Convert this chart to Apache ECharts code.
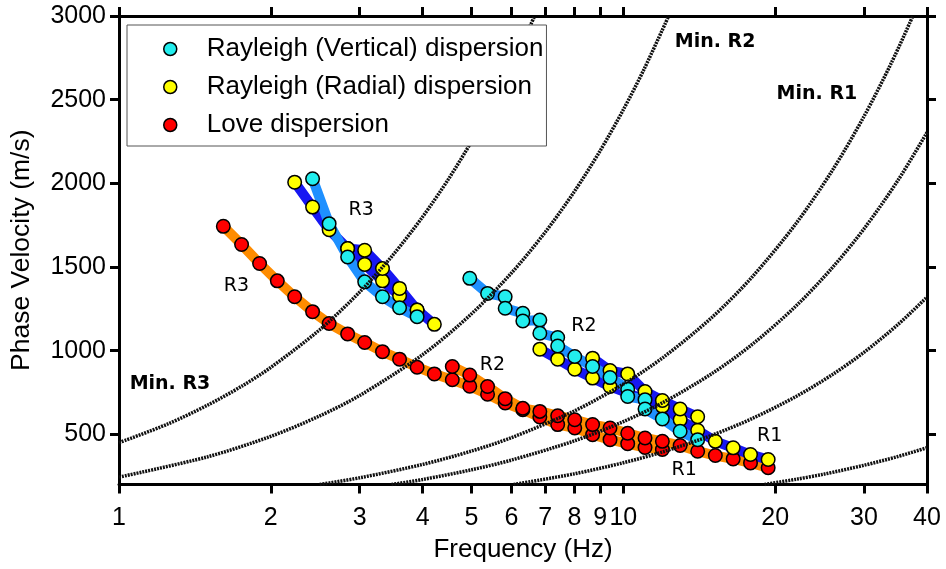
<!DOCTYPE html>
<html><head><meta charset="utf-8">
<script src="https://cdn.jsdelivr.net/npm/echarts@6/dist/echarts.min.js"></script>
<style>html,body{margin:0;padding:0;background:#fff}#c{width:946px;height:569px}</style>
</head><body><div id="c"></div>
<script>
// ---- tick labels ----
const xTickValues = [1, 2, 3, 4, 5, 6, 7, 8, 9, 10, 20, 30, 40];
const yTickValues = [500, 1000, 1500, 2000, 2500, 3000];

// ---- series names ----
const nameVert = 'Rayleigh (Vertical) dispersion';
const nameRad = 'Rayleigh (Radial) dispersion';
const nameLove = 'Love dispersion';

// ---- Rayleigh vertical ----
const vertR3Freq = [2.42, 2.61, 2.84, 3.07, 3.33, 3.60, 3.90];
const vertR3Vel = [2027, 1759, 1560, 1411, 1322, 1256, 1203];
const vertR2Freq = [4.96, 5.38, 5.83, 5.83, 6.32, 6.32, 6.83, 6.83, 7.41, 7.41, 8.01, 8.69, 9.41, 10.2, 10.2, 11.04, 11.04, 11.95, 12.96, 14.04];
const vertR2Vel = [1432, 1342, 1322, 1253, 1223, 1177, 1183, 1104, 1078, 1028, 965, 905, 839, 770, 726, 707, 651, 592, 518, 468];

// ---- Rayleigh radial ----
const radR3MainFreq = [2.23, 2.42, 2.61, 2.84, 3.07, 3.33, 3.60, 3.90, 4.22];
const radR3MainVel = [2007, 1858, 1723, 1610, 1515, 1417, 1328, 1243, 1157];
const radR3UpperFreq = [2.84, 3.07, 3.33, 3.60, 3.90];
const radR3UpperVel = [1610, 1600, 1491, 1372, 1243];
const radR2AFreq = [6.83, 7.41, 8.01, 8.69, 9.41, 11.95, 12.96, 14.04, 15.22, 16.51, 17.87, 19.37];
const radR2AVel = [1009, 949, 889, 836, 786, 667, 587, 524, 458, 419, 379, 349];
const radR2BFreq = [8.69, 9.41, 10.2, 11.04, 11.95, 12.96, 14.04];
const radR2BVel = [955, 881, 861, 756, 702, 651, 605];

// ---- Love ----
const loveR3Freq = [1.61, 1.75, 1.90, 2.06, 2.23, 2.42, 2.61, 2.84, 3.07, 3.33, 3.60, 3.90, 4.22, 4.58, 4.96, 5.38, 5.83, 6.32, 6.83, 7.41, 8.01, 8.69, 9.41, 10.2, 11.04, 11.95];
const loveR3Vel = [1743, 1634, 1521, 1417, 1322, 1233, 1162, 1100, 1049, 994, 949, 901, 861, 826, 787, 739, 687, 647, 603, 558, 538, 498, 468, 444, 421, 409];
const loveR2Freq = [4.58, 4.96, 5.38, 5.83, 6.32, 6.83, 7.41, 8.01, 8.69, 9.41, 10.2, 11.04, 11.95, 12.96, 14.04, 15.22, 16.51, 17.87, 19.37];
const loveR2Vel = [905, 854, 786, 713, 655, 637, 611, 587, 558, 538, 506, 478, 458, 433, 399, 373, 353, 329, 300];

// ---- minimum-wavelength curves ----
const min1Freq = [1, 1.25, 1.5, 1.75, 2, 2.5, 3, 3.5, 4, 4.5, 5, 5.5, 6, 6.67];
const min1Vel = [450, 562, 675, 787, 900, 1125, 1350, 1575, 1800, 2025, 2250, 2475, 2700, 3000];
const min2Freq = [1, 1.5, 2, 2.5, 3, 4, 5, 6, 7, 8, 9, 10, 11, 12.3];
const min2Vel = [244, 366, 488, 610, 732, 976, 1220, 1464, 1708, 1952, 2196, 2440, 2684, 3000];
const min3Freq = [2.5, 3, 4, 5, 6, 8, 10, 12, 15, 18, 22, 26, 30, 34, 37.5];
const min3Vel = [200, 240, 320, 400, 480, 640, 800, 960, 1200, 1440, 1760, 2080, 2400, 2720, 3000];
const min4Freq = [3.47, 4, 5, 6, 8, 10, 12, 15, 18, 22, 26, 30, 35, 40];
const min4Vel = [200, 230, 288, 346, 461, 576, 691, 864, 1037, 1267, 1498, 1728, 2016, 2304];
const min5Freq = [6.06, 8, 10, 12, 15, 18, 22, 26, 30, 35, 40];
const min5Vel = [200, 264, 330, 396, 495, 594, 726, 858, 990, 1155, 1320];
const min6Freq = [19.05, 22, 25, 30, 35, 40];
const min6Vel = [200, 231, 262, 315, 367, 420];

// ---- text annotations ----
const modeLabelText = ['R3', 'R3', 'R2', 'R2', 'R1', 'R1'];
const modeLabelFreq = [3.02, 1.71, 8.35, 5.50, 19.5, 13.2];
const modeLabelVel = [1838, 1386, 1144, 915, 492, 285];
const minLabelText = ['Min. R3', 'Min. R2', 'Min. R1'];
const minLabelFreq = [1.262, 15.2, 24.2];
const minLabelVel = [798, 2845, 2535];

function pts(fs, vs) { return fs.map((f, i) => [f, vs[i]]); }
function named(fs, vs, names) { return fs.map((f, i) => ({ value: [f, vs[i]], name: names[i] })); }

function band(id, fs, vs, color) {
  return {
    id: id, name: id, type: 'line', data: pts(fs, vs), showSymbol: false, symbol: 'none',
    lineStyle: { color: color, width: 10, cap: 'round', join: 'round' },
    z: 2, silent: true, animation: false
  };
}
function markers(name, list, color) {
  return {
    name: name, type: 'scatter', data: list, symbol: 'circle', symbolSize: 13.5,
    itemStyle: { color: color, borderColor: '#000', borderWidth: 1.5, opacity: 1 },
    z: 3, silent: true, animation: false
  };
}
function minCurve(id, fs, vs) {
  return {
    id: id, name: id, type: 'line', data: pts(fs, vs), showSymbol: false, symbol: 'none',
    smooth: 0.3, clip: true,
    lineStyle: { color: '#111', width: 3.5, type: [2, 1] },
    z: 4, silent: true, animation: false
  };
}

const lightBlue = '#1E90FF', darkBlue = '#1717F2', orange = '#FF8C00';
const cyan = '#22EEEE', yellow = '#FFFF00', red = '#FF0000';

const annotationLabel = { show: true, position: 'inside', formatter: '{b}', color: '#000', textBorderWidth: 0, opacity: 1, fontFamily: 'DejaVu Sans' };

const series = [
  band('loveR3', loveR3Freq, loveR3Vel, orange),
  band('loveR2', loveR2Freq, loveR2Vel, orange),
  band('radR3Main', radR3MainFreq, radR3MainVel, darkBlue),
  band('radR3Upper', radR3UpperFreq, radR3UpperVel, darkBlue),
  band('radR2A', radR2AFreq, radR2AVel, darkBlue),
  band('radR2B', radR2BFreq, radR2BVel, darkBlue),
  band('vertR3', vertR3Freq, vertR3Vel, lightBlue),
  band('vertR2', vertR2Freq, vertR2Vel, lightBlue),
  markers(nameLove, pts(loveR3Freq, loveR3Vel).concat(pts(loveR2Freq, loveR2Vel)), red),
  markers(nameRad, pts(radR3MainFreq, radR3MainVel).concat(pts(radR3UpperFreq, radR3UpperVel), pts(radR2AFreq, radR2AVel), pts(radR2BFreq, radR2BVel)), yellow),
  markers(nameVert, pts(vertR3Freq, vertR3Vel).concat(pts(vertR2Freq, vertR2Vel)), cyan),
  minCurve('min1', min1Freq, min1Vel),
  minCurve('min2', min2Freq, min2Vel),
  minCurve('min3', min3Freq, min3Vel),
  minCurve('min4', min4Freq, min4Vel),
  minCurve('min5', min5Freq, min5Vel),
  minCurve('min6', min6Freq, min6Vel),
  {
    id: 'modeLabels', type: 'scatter', data: named(modeLabelFreq, modeLabelVel, modeLabelText),
    symbolSize: 1, itemStyle: { color: 'rgba(255,255,255,0)' }, silent: true, z: 6, animation: false,
    label: Object.assign({}, annotationLabel, { fontSize: 19 })
  },
  {
    id: 'minLabels', type: 'scatter', data: named(minLabelFreq, minLabelVel, minLabelText),
    symbolSize: 1, itemStyle: { color: 'rgba(255,255,255,0)' }, silent: true, z: 6, animation: false,
    label: Object.assign({}, annotationLabel, { fontSize: 19, fontWeight: 'bold' })
  }
];

const axisLineStyle = { color: '#000', width: 3 };
const tickStyle = { color: '#000', width: 3 };
const baseFont = 'Liberation Sans';
const plain = v => String(Math.round(v));

const option = {
  animation: false,
  backgroundColor: '#fff',
  grid: { left: 119, right: 19, top: 16, bottom: 84.5, containLabel: false, outerBoundsMode: 'none' },
  legend: {
    data: [nameVert, nameRad, nameLove], orient: 'vertical', left: 127, top: 25,
    icon: 'circle', itemWidth: 63, itemHeight: 13, itemGap: 12, padding: [11, 3, 8, 36],
    borderColor: '#555', borderWidth: 1, backgroundColor: '#fff', selectedMode: false, z: 10,
    itemStyle: { borderColor: '#000', borderWidth: 1.5 },
    textStyle: { fontSize: 26, fontFamily: baseFont, color: '#000', lineHeight: 26 }
  },
  xAxis: [
    {
      type: 'log', logBase: 10, min: 1, max: 40, position: 'bottom',
      axisLine: { show: true, lineStyle: axisLineStyle },
      axisTick: { show: true, inside: false, length: 9, lineStyle: tickStyle, customValues: xTickValues },
      minorTick: { show: false }, splitLine: { show: false },
      axisLabel: { show: true, customValues: xTickValues, fontSize: 25, fontFamily: baseFont, color: '#000', margin: 21, formatter: plain },
      name: 'Frequency (Hz)', nameLocation: 'middle', nameGap: 52,
      nameTextStyle: { fontSize: 26, fontFamily: baseFont, color: '#000' }
    },
    {
      type: 'log', logBase: 10, min: 1, max: 40, position: 'top',
      axisLine: { show: true, lineStyle: axisLineStyle },
      axisTick: { show: true, inside: false, length: 9, lineStyle: tickStyle, customValues: xTickValues },
      minorTick: { show: false }, splitLine: { show: false },
      axisLabel: { show: false, customValues: xTickValues }
    }
  ],
  yAxis: [
    {
      type: 'value', min: 200, max: 3000, position: 'left',
      axisLine: { show: true, lineStyle: axisLineStyle },
      axisTick: { show: true, inside: false, length: 9, lineStyle: tickStyle, customValues: yTickValues },
      splitLine: { show: false },
      axisLabel: { show: true, customValues: yTickValues, fontSize: 25, fontFamily: baseFont, color: '#000', margin: 13, formatter: plain },
      name: 'Phase Velocity (m/s)', nameLocation: 'middle', nameGap: 84,
      nameTextStyle: { fontSize: 26.5, fontFamily: baseFont, color: '#000' }
    },
    {
      type: 'value', min: 200, max: 3000, position: 'right',
      axisLine: { show: true, lineStyle: axisLineStyle },
      axisTick: { show: true, inside: false, length: 9, lineStyle: tickStyle, customValues: yTickValues },
      splitLine: { show: false },
      axisLabel: { show: false, customValues: yTickValues }
    }
  ],
  series: series
};

const chart = echarts.init(document.getElementById('c'), null, { renderer: 'canvas' });
chart.setOption(option);
</script>
</body></html>
